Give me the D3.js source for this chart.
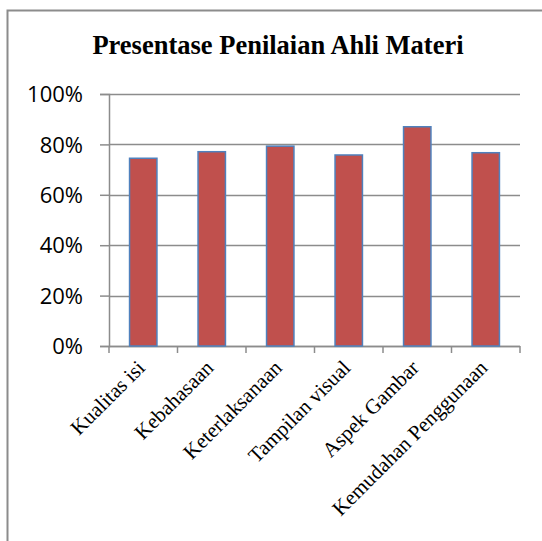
<!DOCTYPE html>
<html>
<head>
<meta charset="utf-8">
<script src="https://cdn.jsdelivr.net/npm/d3@7"></script>
<style>
  body { margin: 0; background: #fff; }
</style>
</head>
<body>
<div id="chart"></div>
<script>
  var categories = ["Kualitas isi", "Kebahasaan", "Keterlaksanaan", "Tampilan visual", "Aspek Gambar", "Kemudahan Penggunaan"];
  var values = [0.745, 0.771, 0.793, 0.758, 0.870, 0.767];
  var yTicks = [0, 0.2, 0.4, 0.6, 0.8, 1.0];
  var title = "Presentase Penilaian Ahli Materi";

  var W = 542, H = 541;
  var margin = {left: 109, right: 22, top: 94, bottom: 195};
  var wid = W - margin.left - margin.right;
  var high = H - margin.top - margin.bottom;

  var svg = d3.select("#chart").append("svg")
    .attr("width", W).attr("height", H);

  // chart frame
  svg.append("rect")
    .attr("x", 7.5).attr("y", 10.5)
    .attr("width", W + 10).attr("height", H + 10)
    .attr("fill", "#fff").attr("stroke", "#8c8c8c").attr("stroke-width", 2);

  svg.append("text")
    .attr("x", 278).attr("y", 54)
    .attr("text-anchor", "middle")
    .style("font-family", "'Liberation Serif', 'Times New Roman', serif")
    .style("font-weight", "bold")
    .style("font-size", "26.5px")
    .text(title);

  var g = svg.append("g")
    .attr("transform", "translate(" + margin.left + "," + margin.top + ")");

  var x = d3.scaleBand().domain(categories).range([0, wid]).paddingInner(0).paddingOuter(0);
  var y = d3.scaleLinear().domain([0, 1]).range([high, 0]);

  // gridlines
  g.selectAll(".grid").data(yTicks).enter().append("line")
    .attr("x1", 0).attr("x2", wid)
    .attr("y1", function(d) { return Math.round(y(d)) + 0.5; })
    .attr("y2", function(d) { return Math.round(y(d)) + 0.5; })
    .attr("stroke", "#8c8c8c").attr("stroke-width", 1.5);

  // y axis
  var yaxis = d3.axisLeft(y).tickValues(yTicks).tickSize(9)
    .tickFormat(d3.format(".0%"));
  var ya = g.append("g").call(yaxis);
  ya.select(".domain").attr("stroke", "#8c8c8c").attr("stroke-width", 1.5);
  ya.selectAll(".tick line").attr("stroke", "#8c8c8c").attr("stroke-width", 1.5);
  ya.selectAll(".tick text")
    .attr("x", -26).attr("dy", "0.35em")
    .style("font-family", "'Open Sans', 'Liberation Sans', sans-serif")
    .style("font-size", "22px").attr("fill", "#000");

  // x axis ticks at category boundaries
  var bounds = categories.map(function(c) { return x(c); }).concat([wid]);
  g.append("line").attr("x1", 0).attr("x2", wid)
    .attr("y1", high + 0.5).attr("y2", high + 0.5)
    .attr("stroke", "#8c8c8c").attr("stroke-width", 1.5);
  g.selectAll(".xtick").data(bounds).enter().append("line")
    .attr("x1", function(d) { return d; }).attr("x2", function(d) { return d; })
    .attr("y1", high).attr("y2", high + 7)
    .attr("stroke", "#8c8c8c").attr("stroke-width", 1.5);

  // bars
  var bw = x.bandwidth() * 0.4;
  g.selectAll(".bar").data(values).enter().append("rect")
    .attr("x", function(d, i) { return x(categories[i]) + x.bandwidth() / 2 - bw / 2; })
    .attr("y", function(d) { return y(d); })
    .attr("width", bw)
    .attr("height", function(d) { return high - y(d); })
    .attr("fill", "#c0504d")
    .attr("stroke", "#4f81bd").attr("stroke-width", 1.5);

  // x labels
  g.selectAll(".xlab").data(categories).enter().append("text")
    .attr("text-anchor", "end")
    .attr("transform", function(d) {
      return "translate(" + (x(d) + x.bandwidth() / 2 + 3) + "," + (high + 23) + ") rotate(-45)";
    })
    .style("font-family", "'Liberation Serif', 'Times New Roman', serif")
    .style("font-size", "21px")
    .text(function(d) { return d; });
</script>
</body>
</html>
